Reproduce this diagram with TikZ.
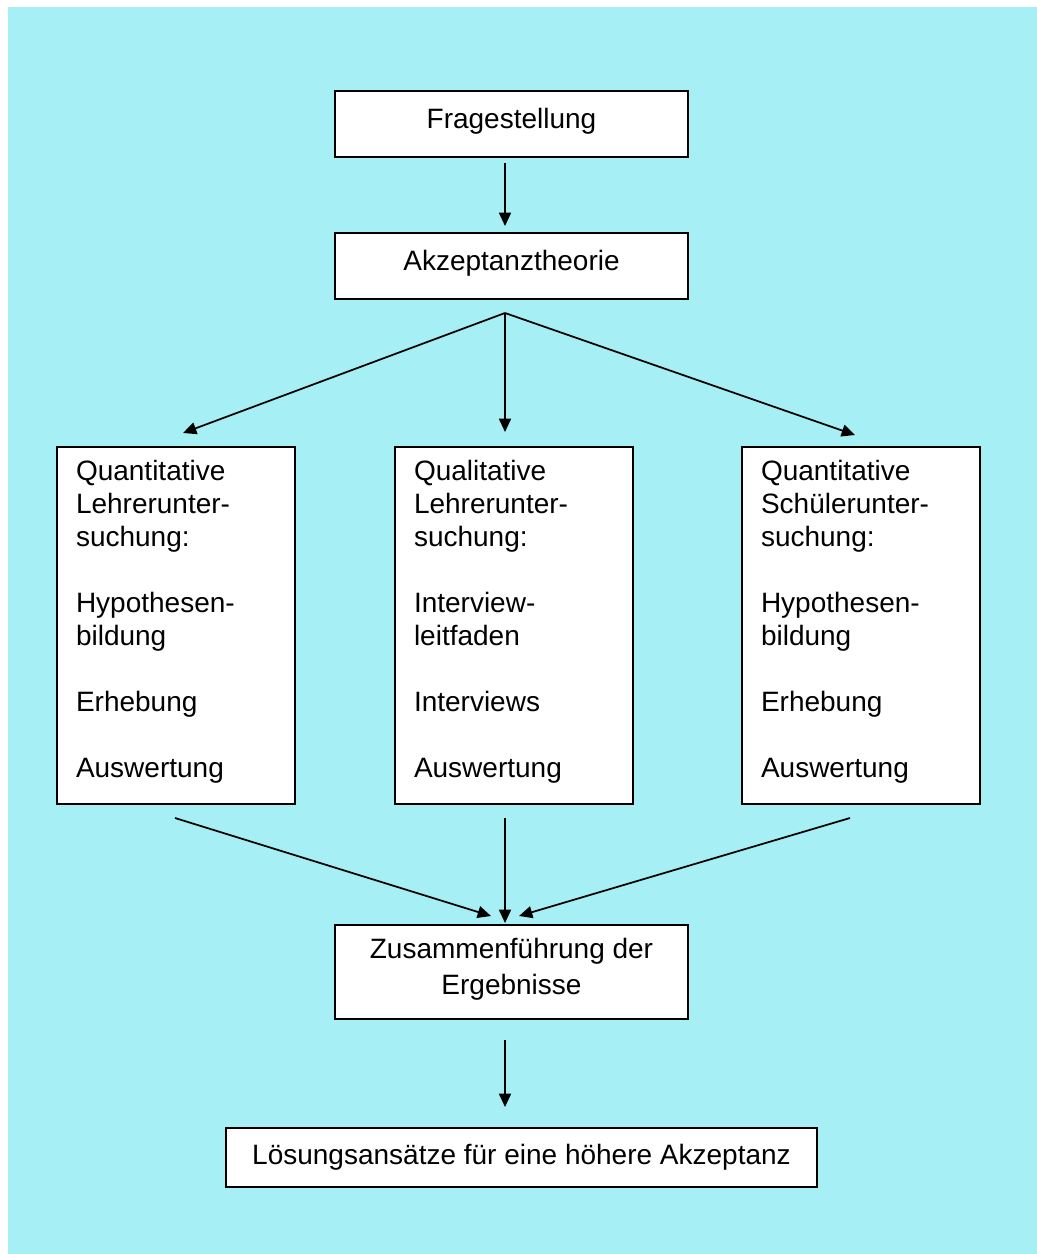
\documentclass[tikz,border=0pt]{standalone}
\usepackage{fontspec}
\setmainfont{Liberation Sans}
\usetikzlibrary{positioning,arrows.meta}
\definecolor{hintergrund}{HTML}{A5EFF5}

\begin{document}
\begin{tikzpicture}[x=0.75pt,y=-0.75pt,
    box/.style={draw=black, fill=white, line width=1.3pt, inner sep=0pt, align=center,
        minimum width=264.75pt, font=\fontsize{21}{27}\selectfont},
    column/.style={draw=black, fill=white, line width=1.3pt, inner xsep=14.25pt, inner ysep=0pt,
        text width=150pt, minimum height=267.75pt, align=left,
        font=\fontsize{21}{24.75}\selectfont},
    arr/.style={draw=black, line width=1.3pt, -{Triangle[width=9pt,length=10pt]}}
    ]
    \useasboundingbox (0,0) rectangle (1037,1254);
    \fill[hintergrund] (8,7) rectangle (1037,1254);

    % top of the chain
    \node[box, minimum height=49.5pt, text depth=9pt] (frage) at (511.5,124) {Fragestellung};
    \node[box, minimum height=49.5pt, text depth=9pt] (theorie) at (511.5,266) {Akzeptanztheorie};

    % the three studies
    \node[column] (quantL) at (176,625.5) {Quantitative\\Lehrerunter-\\suchung:\\[24.75pt]
        Hypothesen-\\bildung\\[24.75pt]Erhebung\\[24.75pt]Auswertung\\[-14.35pt]\mbox{}};
    \node[column] (qualL) at (514,625.5) {Qualitative\\Lehrerunter-\\suchung:\\[24.75pt]
        Interview-\\leitfaden\\[24.75pt]Interviews\\[24.75pt]Auswertung\\[-14.35pt]\mbox{}};
    \node[column] (quantS) at (861,625.5) {Quantitative\\Sch\"ulerunter-\\suchung:\\[24.75pt]
        Hypothesen-\\bildung\\[24.75pt]Erhebung\\[24.75pt]Auswertung\\[-14.35pt]\mbox{}};

    % bottom of the chain
    \node[box, minimum height=70.5pt, text depth=9pt] (zusam) at (511.5,972) {Zusammenf\"uhrung der\\Ergebnisse};
    \node[box, minimum width=443.25pt, minimum height=44.25pt] (loesung) at (521.5,1157.5)
        {L\"osungsans\"atze f\"ur eine h\"ohere Akzeptanz};

    % free ends of the arrows
    \coordinate (frageOut) at (505,163);
    \coordinate (theorieIn) at (505,226);
    \coordinate (spitze) at (505,313);
    \coordinate (inquantL) at (183,433);
    \coordinate (inqualL) at (505,432);
    \coordinate (inquantS) at (855,435);
    \coordinate (outquantL) at (175,818);
    \coordinate (outqualL) at (505,818);
    \coordinate (outquantS) at (850,818);
    \coordinate (zusamInL) at (491,916);
    \coordinate (zusamInM) at (505,923);
    \coordinate (zusamInR) at (519,916);
    \coordinate (zusamOut) at (505,1040);
    \coordinate (loesungIn) at (505,1107);

    \path[arr] (frageOut) -- (theorieIn);
    \foreach \x in {quantL,qualL,quantS} {
        \path[arr] (spitze) -- (in\x);
    }
    \path[arr] (outquantL) -- (zusamInL);
    \path[arr] (outqualL) -- (zusamInM);
    \path[arr] (outquantS) -- (zusamInR);
    \path[arr] (zusamOut) -- (loesungIn);

\end{tikzpicture}
\end{document}
